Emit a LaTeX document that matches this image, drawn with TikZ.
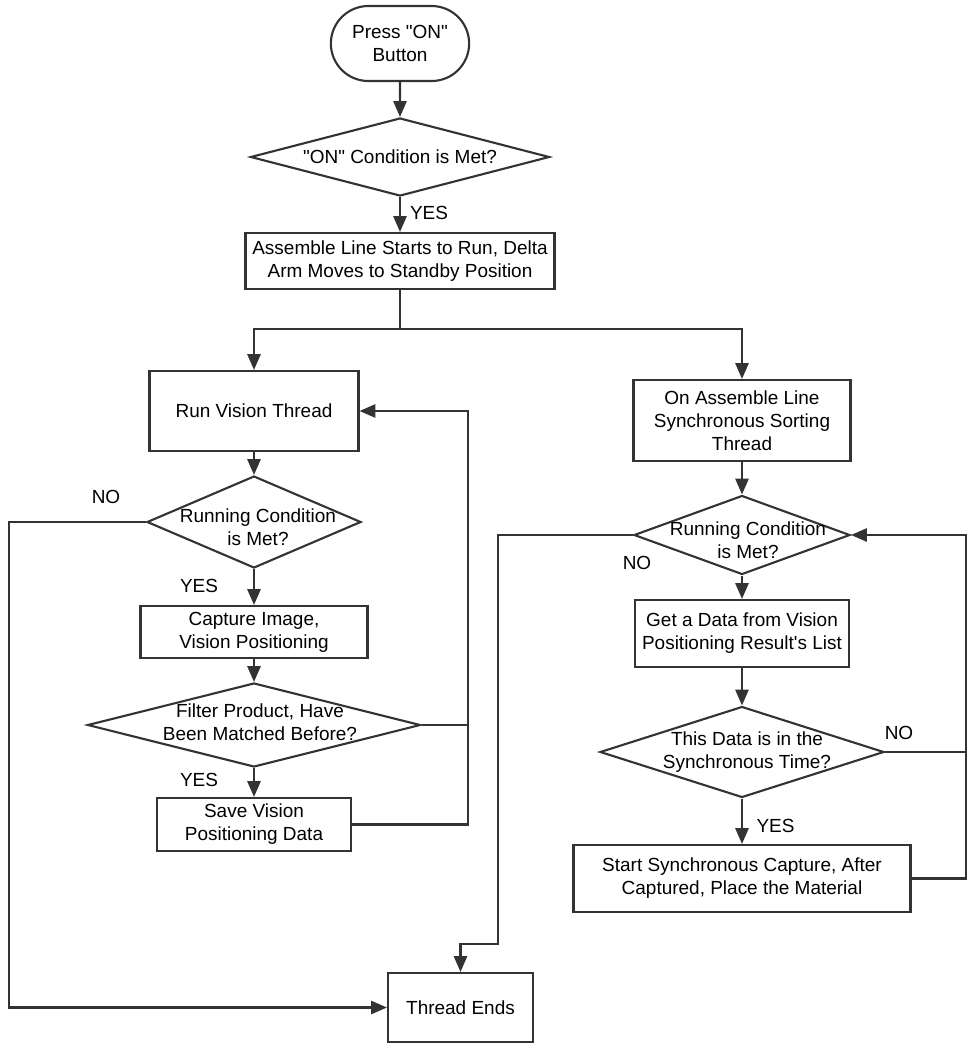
\documentclass[tikz,border=0pt]{standalone}
\usepackage{fontspec}
\setmainfont{Liberation Sans}[Ligatures=TeXOff]
\usepackage{tikz}
\usetikzlibrary{positioning,arrows.meta,shapes.geometric,shapes.misc,calc}
\definecolor{lineg}{HTML}{333333}

\begin{document}
\begin{tikzpicture}[font=\fontsize{10.8}{13}\selectfont,
  proc/.style={draw=lineg,line width=1.2pt,rectangle,align=center,inner sep=2pt},
  term/.style={draw=lineg,line width=1.2pt,rounded rectangle,align=center,minimum width=3cm,minimum height=1.5cm},
  decision/.style={draw=lineg,line width=1.2pt,diamond,inner sep=0pt},
  dtext/.style={align=center,inner sep=0pt},
  arr/.style={draw=lineg,line width=1.2pt,-{Triangle[length=9pt,width=7.5pt]}},
  lnk/.style={draw=lineg,line width=1.2pt},
  tag/.style={inner sep=0pt}]
\useasboundingbox (0,0) rectangle (19.54,-21);
% top part
\node[term] (start) at (8.0,-0.87) {Press "ON"\\Button};
\node[decision,minimum width=5.98cm,minimum height=1.56cm] (d1) at (8.0,-3.14) {};
\node[dtext] (d1t) at (d1) {"ON" Condition is Met?};
\node[proc,minimum width=6.18cm,minimum height=1.12cm] (b1) at (8.0,-5.22) {Assemble Line Starts to Run, Delta\\Arm Moves to Standby Position};
% vision thread
\node[proc,minimum width=4.18cm,minimum height=1.6cm] (vis) at (5.08,-8.22) {Run Vision Thread};
\node[decision,minimum width=4.28cm,minimum height=1.84cm] (d2) at (5.08,-10.44) {};
\node[dtext] (d2t) at (5.16,-10.54) {Running Condition\\is Met?};
\node[proc,minimum width=4.54cm,minimum height=1.04cm] (cap) at (5.08,-12.64) {Capture Image,\\Vision Positioning};
\node[decision,minimum width=6.66cm,minimum height=1.68cm] (d3) at (5.08,-14.5) {};
\node[dtext] (d3t) at (5.2,-14.44) {Filter Product, Have\\Been Matched Before?};
\node[proc,minimum width=3.88cm,minimum height=1.06cm] (save) at (5.08,-16.49) {Save Vision\\Positioning Data};
% sorting thread
\node[proc,minimum width=4.34cm,minimum height=1.62cm] (sort) at (14.84,-8.41) {On Assemble Line\\Synchronous Sorting\\Thread};
\node[decision,minimum width=4.32cm,minimum height=1.58cm] (d4) at (14.84,-10.7) {};
\node[dtext] (d4t) at (14.96,-10.8) {Running Condition\\is Met?};
\node[proc,minimum width=4.28cm,minimum height=1.34cm] (get) at (14.84,-12.67) {Get a Data from Vision\\Positioning Result's List};
\node[decision,minimum width=5.68cm,minimum height=1.82cm] (d5) at (14.84,-15.04) {};
\node[dtext] (d5t) at (14.94,-15.04) {This Data is in the\\Synchronous Time?};
\node[proc,minimum width=6.74cm,minimum height=1.34cm] (place) at (14.84,-17.57) {Start Synchronous Capture, After\\Captured, Place the Material};
% end
\node[proc,minimum width=2.9cm,minimum height=1.38cm] (ends) at (9.21,-20.15) {Thread Ends};

% labels
\node[tag] (y1) at (8.58,-4.26) {YES};
\node[tag] (n2) at (2.12,-9.94) {NO};
\node[tag] (y2) at (3.98,-11.72) {YES};
\node[tag] (y3) at (3.98,-15.6) {YES};
\node[tag] (n4) at (12.74,-11.26) {NO};
\node[tag] (n5) at (17.98,-14.66) {NO};
\node[tag] (y5) at (15.51,-16.52) {YES};

\coordinate (jL) at ($(d3.east)+(0.92,0)$);
\coordinate (jR) at ($(d5.east)+(1.62,0)$);

% connectors
\draw[arr] (start) -- (d1);
\draw[arr] (d1) -- (b1);
\draw[arr] (b1.south) -- ++(0,-0.78) -| (vis.north);
\draw[arr] (b1.south) -- ++(0,-0.78) -| (sort.north);
\draw[arr] (vis) -- (d2);
\draw[arr] (d2.west) -- ++(-2.74,0) |- (ends.west);
\draw[arr] (d2) -- (cap);
\draw[arr] (cap) -- (d3);
\draw[arr] (d3.east) -- (jL) |- (vis.east);
\draw[arr] (d3) -- (save);
\draw[lnk] (save.east) -| (jL);
\draw[arr] (sort) -- (d4);
\draw[arr] (d4.west) -- ++(-2.7,0) -- ++(0,-8.18) -| (ends.north);
\draw[arr] (d4) -- (get);
\draw[arr] (get) -- (d5);
\draw[arr] (d5.east) -- (jR) |- (d4.east);
\draw[arr] (d5) -- (place);
\draw[lnk] (place.east) -| (jR);
\end{tikzpicture}
\end{document}
